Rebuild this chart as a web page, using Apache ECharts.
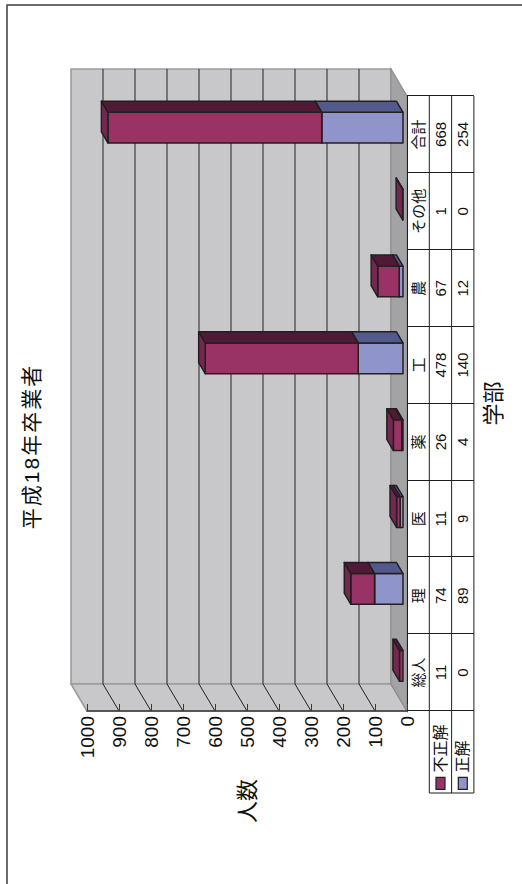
<!DOCTYPE html>
<html lang="ja">
<head>
<meta charset="utf-8">
<title>平成18年卒業者</title>
<script src="https://cdn.jsdelivr.net/npm/echarts@6/dist/echarts.min.js"></script>
<style>
  html, body { margin: 0; padding: 0; width: 522px; height: 884px; overflow: hidden; background: #fff; }
  /* The chart is laid out landscape and turned a quarter turn to stand upright on the page. */
  #chart {
    position: absolute; left: 0; top: 0;
    width: 884px; height: 522px;
    transform-origin: 0 0;
    transform: translate(0, 884px) rotate(-90deg);
  }
</style>
</head>
<body>
<div id="chart"></div>
<script>
// ---- data ----
const titleText = '平成18年卒業者';
const categories = ['総人', '理', '医', '薬', '工', '農', 'その他', '合計'];
const incorrect = [11, 74, 11, 26, 478, 67, 1, 668];   // 不正解
const correct = [0, 89, 9, 4, 140, 12, 0, 254];        // 正解
const seriesNames = ['不正解', '正解'];
const valueAxisName = '人数';
const categoryAxisName = '学部';
const valueMin = 0;
const valueMax = 1000;
const valueStep = 100;

// ---- 3D look ----
const DEPTH = [27, -16];          // offset from the front plane to the back wall, px
const BAR_FRONT = 0.25;           // bar front face, as a fraction of the depth
const BAR_BACK = 0.66;            // bar back face
const BAR_WIDTH = 0.4;            // bar width, as a fraction of the category band
const ROW_H = 22.3;               // data table row height
const LEGEND_LEFT = 91;           // left edge of the legend column of the table

const FONT = "'Liberation Sans', 'Noto Sans CJK JP', sans-serif";
const EDGE = '#231f20';

const palette = {
  '不正解': { front: '#993366', top: '#74284f', side: '#4e1a36' },
  '正解':   { front: '#8f95cb', top: '#6d72a6', side: '#525a8b' }
};

function renderWalls(params, api) {
  const band = api.size([1, 0])[0];
  const xL = api.coord([0, valueMin])[0] - band / 2;
  const xR = api.coord([categories.length - 1, valueMin])[0] + band / 2;
  const y0 = api.coord([0, valueMin])[1];
  const yT = api.coord([0, valueMax])[1];
  const dx = DEPTH[0], dy = DEPTH[1];
  const children = [
    { type: 'polygon', shape: { points: [[xL + dx, yT + dy], [xR + dx, yT + dy], [xR + dx, y0 + dy], [xL + dx, y0 + dy]] },
      style: { fill: '#c8c8ca', stroke: '#9c9c9c', lineWidth: 1.6 } },
    { type: 'polygon', shape: { points: [[xL, yT], [xL + dx, yT + dy], [xL + dx, y0 + dy], [xL, y0]] },
      style: { fill: '#c8c8ca', stroke: '#9c9c9c', lineWidth: 1.6 } },
    { type: 'polygon', shape: { points: [[xL, y0], [xR, y0], [xR + dx, y0 + dy], [xL + dx, y0 + dy]] },
      style: { fill: '#a3a3a5', stroke: '#8e8e8e', lineWidth: 1.2 } }
  ];
  for (let v = valueMin + valueStep; v < valueMax; v += valueStep) {
    const y = api.coord([0, v])[1];
    children.push({ type: 'line', shape: { x1: xL + dx, y1: y + dy, x2: xR + dx, y2: y + dy },
      style: { stroke: '#222', lineWidth: 1 } });
    children.push({ type: 'line', shape: { x1: xL, y1: y, x2: xL + dx, y2: y + dy },
      style: { stroke: '#222', lineWidth: 1 } });
  }
  return { type: 'group', children };
}

function makeBarRenderer(name) {
  const col = palette[name];
  return function (params, api) {
    const i = api.value(0), v = api.value(1), base = api.value(2);
    if (!v) return null;
    const band = api.size([1, 0])[0];
    const w = band * BAR_WIDTH;
    const p0 = api.coord([i, base]);
    const p1 = api.coord([i, base + v]);
    const x = p0[0] - w / 2 + DEPTH[0] * BAR_FRONT;
    const yb = p0[1] + DEPTH[1] * BAR_FRONT;
    const yt = p1[1] + DEPTH[1] * BAR_FRONT;
    const ddx = DEPTH[0] * (BAR_BACK - BAR_FRONT);
    const ddy = DEPTH[1] * (BAR_BACK - BAR_FRONT);
    const st = { stroke: EDGE, lineWidth: 1.5, lineJoin: 'round' };
    return {
      type: 'group',
      children: [
        { type: 'rect', shape: { x: x, y: yt, width: w, height: yb - yt },
          style: Object.assign({ fill: col.front }, st) },
        { type: 'polygon', shape: { points: [[x, yt], [x + w, yt], [x + w + ddx, yt + ddy], [x + ddx, yt + ddy]] },
          style: Object.assign({ fill: col.top }, st) },
        { type: 'polygon', shape: { points: [[x + w, yt], [x + w, yb], [x + w + ddx, yb + ddy], [x + w + ddx, yt + ddy]] },
          style: Object.assign({ fill: col.side }, st) }
      ]
    };
  };
}

function renderTableRules(params, api) {
  const band = api.size([1, 0])[0];
  const xR = api.coord([categories.length - 1, valueMin])[0] + band / 2;
  const y0 = api.coord([0, valueMin])[1];
  const children = [];
  [1, 2, 3].forEach(function (r) {
    children.push({ type: 'line', shape: { x1: LEGEND_LEFT, y1: y0 + ROW_H * r, x2: xR, y2: y0 + ROW_H * r },
      style: { stroke: '#1e1e1e', lineWidth: 1 } });
  });
  children.push({ type: 'line', shape: { x1: LEGEND_LEFT, y1: y0 + ROW_H, x2: LEGEND_LEFT, y2: y0 + ROW_H * 3 },
    style: { stroke: '#1e1e1e', lineWidth: 1 } });
  return { type: 'group', children };
}

const correctData = categories.map((c, i) => [i, correct[i], 0]);
const incorrectData = categories.map((c, i) => [i, incorrect[i], correct[i]]);

const option = {
  animation: false,
  backgroundColor: '#ffffff',
  textStyle: { fontFamily: FONT },
  grid: { left: 173, top: 87, width: 615, height: 320, containLabel: false, outerBoundsMode: 'none' },
  graphic: [
    { type: 'rect', z: 0, shape: { x: -2, y: 7, width: 881, height: 530 },
      style: { fill: 'none', stroke: '#3a3a3a', lineWidth: 1.5 } },
    { type: 'text', z: 10, x: 437.5, y: 31,
      style: { text: titleText, font: '21px ' + FONT, fill: '#111', textAlign: 'center', textVerticalAlign: 'middle' } }
  ],
  legend: {
    data: seriesNames,
    orient: 'vertical',
    left: 94,
    top: 432.5,
    padding: 0,
    itemWidth: 12,
    itemHeight: 9,
    itemGap: 6.3,
    selectedMode: false,
    icon: 'rect',
    itemStyle: { borderColor: EDGE, borderWidth: 1.2 },
    textStyle: { fontSize: 16, color: '#111', fontFamily: FONT, padding: [0, 0, 0, 0] }
  },
  xAxis: {
    type: 'category',
    data: categories,
    z: 10,
    name: categoryAxisName,
    nameLocation: 'middle',
    nameGap: 75,
    nameTextStyle: { fontSize: 22, color: '#111', fontFamily: FONT },
    axisLine: { show: true, lineStyle: { color: '#1e1e1e', width: 1 } },
    axisTick: { show: true, length: ROW_H * 3, interval: 0, lineStyle: { color: '#1e1e1e', width: 1 } },
    axisLabel: {
      interval: 0,
      margin: 0,
      fontSize: 15,
      lineHeight: ROW_H,
      color: '#111',
      verticalAlign: 'top',
      formatter: function (value, idx) {
        return value + '\n' + incorrect[idx] + '\n' + correct[idx];
      }
    },
    splitLine: { show: false }
  },
  yAxis: {
    type: 'value',
    min: valueMin,
    max: valueMax,
    interval: valueStep,
    z: 10,
    name: valueAxisName,
    nameLocation: 'middle',
    nameGap: 68,
    nameRotate: 0,
    nameTextStyle: { fontSize: 22, color: '#111', fontFamily: FONT },
    axisLine: { show: true, lineStyle: { color: '#3a3a3a', width: 1.5 } },
    axisTick: { show: true, inside: true, length: 7, lineStyle: { color: '#3a3a3a', width: 1 } },
    axisLabel: { fontSize: 19, color: '#111', margin: 5, formatter: function (v) { return String(v); } },
    splitLine: { show: false }
  },
  series: [
    { type: 'custom', name: 'walls', z: 1, silent: true, clip: false,
      data: [[0, 0]], encode: { x: 0, y: 1 }, renderItem: renderWalls },
    { type: 'custom', name: seriesNames[1], z: 3, clip: false,
      itemStyle: { color: palette['正解'].front },
      data: correctData, encode: { x: 0, y: 1 }, renderItem: makeBarRenderer('正解') },
    { type: 'custom', name: seriesNames[0], z: 4, clip: false,
      itemStyle: { color: palette['不正解'].front },
      data: incorrectData, encode: { x: 0, y: 1 }, renderItem: makeBarRenderer('不正解') },
    { type: 'custom', name: 'table', z: 9, silent: true, clip: false,
      data: [[0, 0]], encode: { x: 0, y: 1 }, renderItem: renderTableRules }
  ]
};

const dom = document.getElementById('chart');
const chart = echarts.init(dom, null, { renderer: 'svg', width: 884, height: 522 });
chart.setOption(option);

// The title is set with a little extra letter spacing.
function spaceTitle() {
  dom.querySelectorAll('text').forEach(function (t) {
    if (t.textContent === titleText) t.setAttribute('letter-spacing', '2');
  });
}
spaceTitle();
chart.on('finished', spaceTitle);
setTimeout(spaceTitle, 0);
</script>
</body>
</html>
